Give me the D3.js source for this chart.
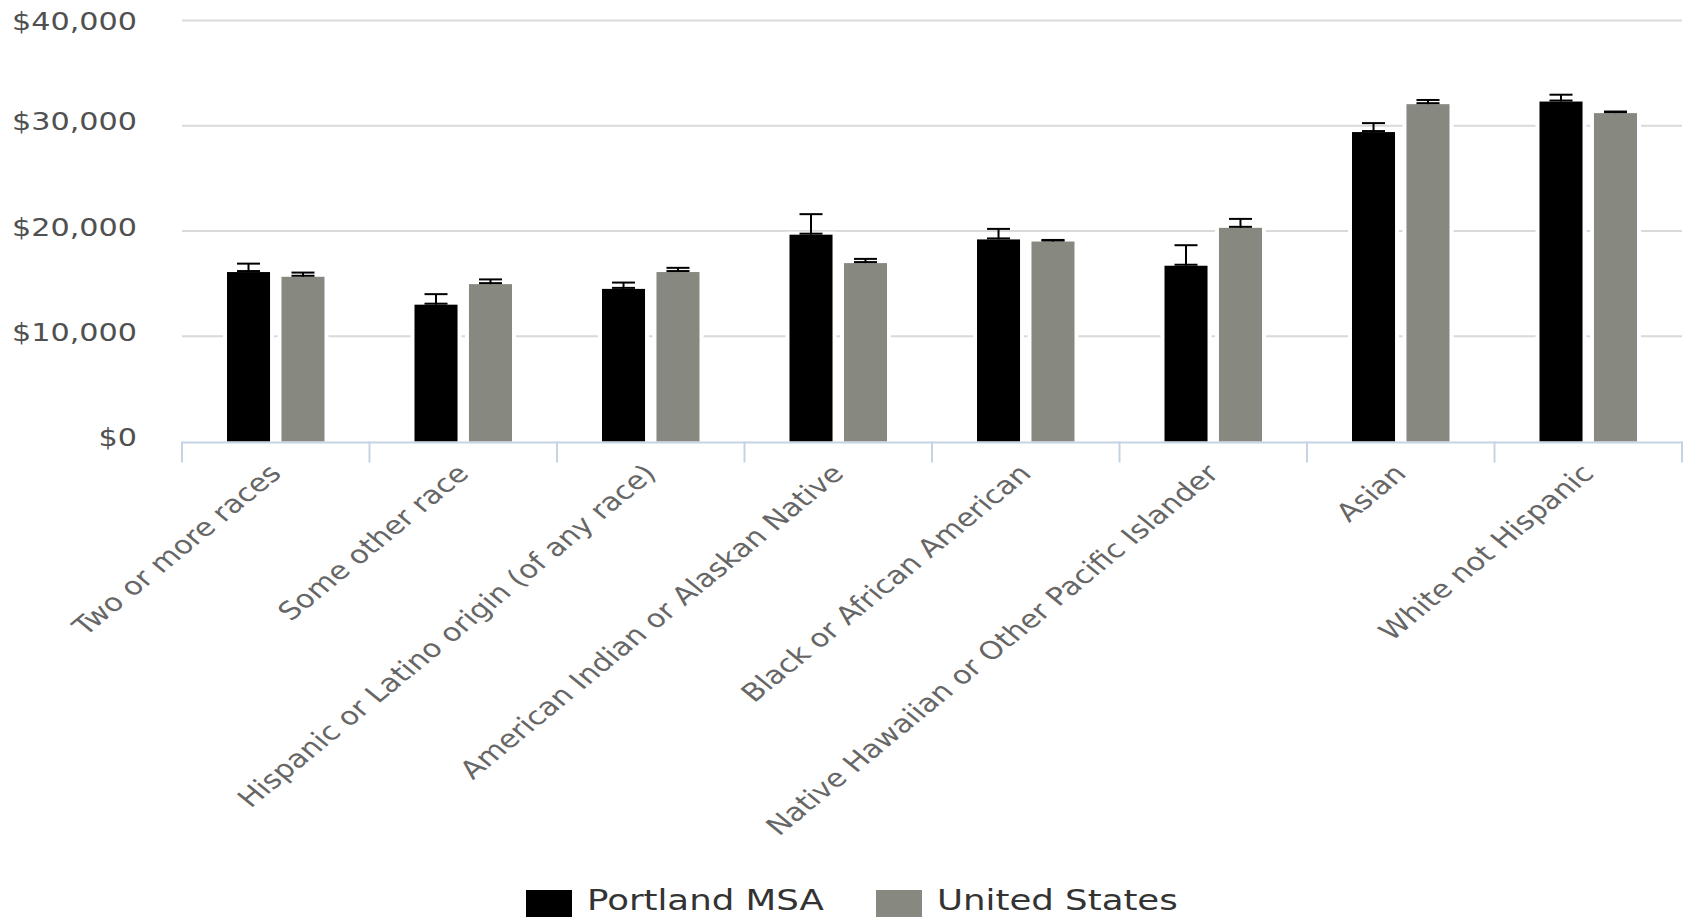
<!DOCTYPE html>
<html>
<head>
<meta charset="utf-8">
<script src="https://cdn.jsdelivr.net/npm/d3@7"></script>
<style>
  html, body { margin: 0; padding: 0; background: #fff; }
  svg { display: block; }
  text { font-family: "DejaVu Sans", Verdana, sans-serif; }
</style>
</head>
<body>
<svg id="chart" width="1685" height="918"></svg>
<script>
// ---- data ----
const categories = [
  "Two or more races",
  "Some other race",
  "Hispanic or Latino origin (of any race)",
  "American Indian or Alaskan Native",
  "Black or African American",
  "Native Hawaiian or Other Pacific Islander",
  "Asian",
  "White not Hispanic"
];
const seriesNames = ["Portland MSA", "United States"];
const portlandValues = [16100, 13000, 14500, 19650, 19200, 16700, 29400, 32300];
const portlandMoe    = [800, 1000, 600, 1950, 1000, 1950, 850, 650];
const usValues       = [15650, 14950, 16100, 16950, 19000, 20300, 32050, 31200];
const usMoe          = [400, 450, 400, 400, 150, 850, 400, 150];
const yTicks = [0, 10000, 20000, 30000, 40000];
const seriesColors = ["#000000", "#878880"];

// ---- layout ----
const svg = d3.select("#chart");
const plot = { left: 182, right: 1682, top: 20.5, bottom: 441.5 };

const x0 = d3.scaleBand().domain(categories).range([plot.left, plot.right]).padding(0);
const x1 = d3.scaleBand().domain(seriesNames).range([45, 142.5]).paddingInner(0.21).paddingOuter(0);
const y = d3.scaleLinear().domain([0, 40000]).range([plot.bottom, plot.top]);

const rows = categories.map((c, i) => ({
  cat: c,
  items: [
    { s: seriesNames[0], v: portlandValues[i], moe: portlandMoe[i], color: seriesColors[0] },
    { s: seriesNames[1], v: usValues[i], moe: usMoe[i], color: seriesColors[1] }
  ]
}));

// gridlines
svg.append("g").selectAll("line").data(yTicks.filter(t => t > 0)).join("line")
  .attr("x1", plot.left).attr("x2", plot.right)
  .attr("y1", d => y(d)).attr("y2", d => y(d))
  .attr("stroke", "#d9d9d9").attr("stroke-width", 2);

// y labels
const fmt = d => "$" + d3.format(",")(d);
svg.append("g").selectAll("text").data(yTicks).join("text")
  .attr("transform", d => `translate(137,${Math.max(y(d) + 4.5, 30)}) scale(1.26,1)`)
  .attr("text-anchor", "end")
  .attr("font-size", 24)
  .attr("fill", "#505050")
  .text(fmt);

// bars
const groups = svg.append("g").selectAll("g").data(rows).join("g")
  .attr("transform", d => `translate(${x0(d.cat)},0)`);

// white halos (bar borders)
groups.selectAll("rect.halo").data(d => d.items).join("rect")
  .attr("class", "halo")
  .attr("x", d => x1(d.s) - 4)
  .attr("y", d => y(d.v) - 3)
  .attr("width", x1.bandwidth() + 8)
  .attr("height", d => y(0) - y(d.v) + 3)
  .attr("fill", "#fff");

groups.selectAll("rect.bar").data(d => d.items).join("rect")
  .attr("class", "bar")
  .attr("x", d => x1(d.s))
  .attr("y", d => y(d.v))
  .attr("width", x1.bandwidth())
  .attr("height", d => y(0) - y(d.v))
  .attr("fill", d => d.color);

// error bars (value to value + moe)
const capW = 23;
const eb = groups.selectAll("g.err").data(d => d.items).join("g").attr("class", "err");
eb.append("line")
  .attr("x1", d => x1(d.s) + x1.bandwidth() / 2).attr("x2", d => x1(d.s) + x1.bandwidth() / 2)
  .attr("y1", d => y(d.v)).attr("y2", d => y(d.v + d.moe))
  .attr("stroke", "#000").attr("stroke-width", 2);
eb.append("line")
  .attr("x1", d => x1(d.s) + x1.bandwidth() / 2 - capW / 2).attr("x2", d => x1(d.s) + x1.bandwidth() / 2 + capW / 2)
  .attr("y1", d => y(d.v + d.moe)).attr("y2", d => y(d.v + d.moe))
  .attr("stroke", "#000").attr("stroke-width", 2);
eb.append("line")
  .attr("x1", d => x1(d.s) + x1.bandwidth() / 2 - capW / 2).attr("x2", d => x1(d.s) + x1.bandwidth() / 2 + capW / 2)
  .attr("y1", d => y(d.v) - 1).attr("y2", d => y(d.v) - 1)
  .attr("stroke", "#000").attr("stroke-width", 2);

// x axis line + ticks
const axisColor = "#c5d3e3";
svg.append("line")
  .attr("x1", plot.left).attr("x2", plot.right + 1)
  .attr("y1", plot.bottom + 1).attr("y2", plot.bottom + 1)
  .attr("stroke", axisColor).attr("stroke-width", 2);
const tickXs = categories.map(c => x0(c)).concat([x0.range()[1]]);
svg.append("g").selectAll("line").data(tickXs).join("line")
  .attr("x1", d => d).attr("x2", d => d)
  .attr("y1", plot.bottom).attr("y2", plot.bottom + 21)
  .attr("stroke", axisColor).attr("stroke-width", 2);

// category labels
svg.append("g").selectAll("text").data(categories).join("text")
  .attr("transform", d => `translate(${x0(d) + x0.bandwidth() / 2 + 7},475) scale(1.22,1) rotate(-45)`)
  .attr("text-anchor", "end")
  .attr("font-size", 25)
  .attr("fill", "#666")
  .text(d => d);

// legend
const legendX = [526, 876];
const lg = svg.append("g").selectAll("g").data(seriesNames).join("g")
  .attr("transform", (d, i) => `translate(${legendX[i]},0)`);
lg.append("rect").attr("x", 0).attr("y", 890).attr("width", 46).attr("height", 27)
  .attr("fill", (d, i) => seriesColors[i]);
lg.append("text")
  .attr("transform", "translate(61,910) scale(1.27,1)")
  .attr("font-size", 28)
  .attr("fill", "#333")
  .text(d => d);
</script>
</body>
</html>
